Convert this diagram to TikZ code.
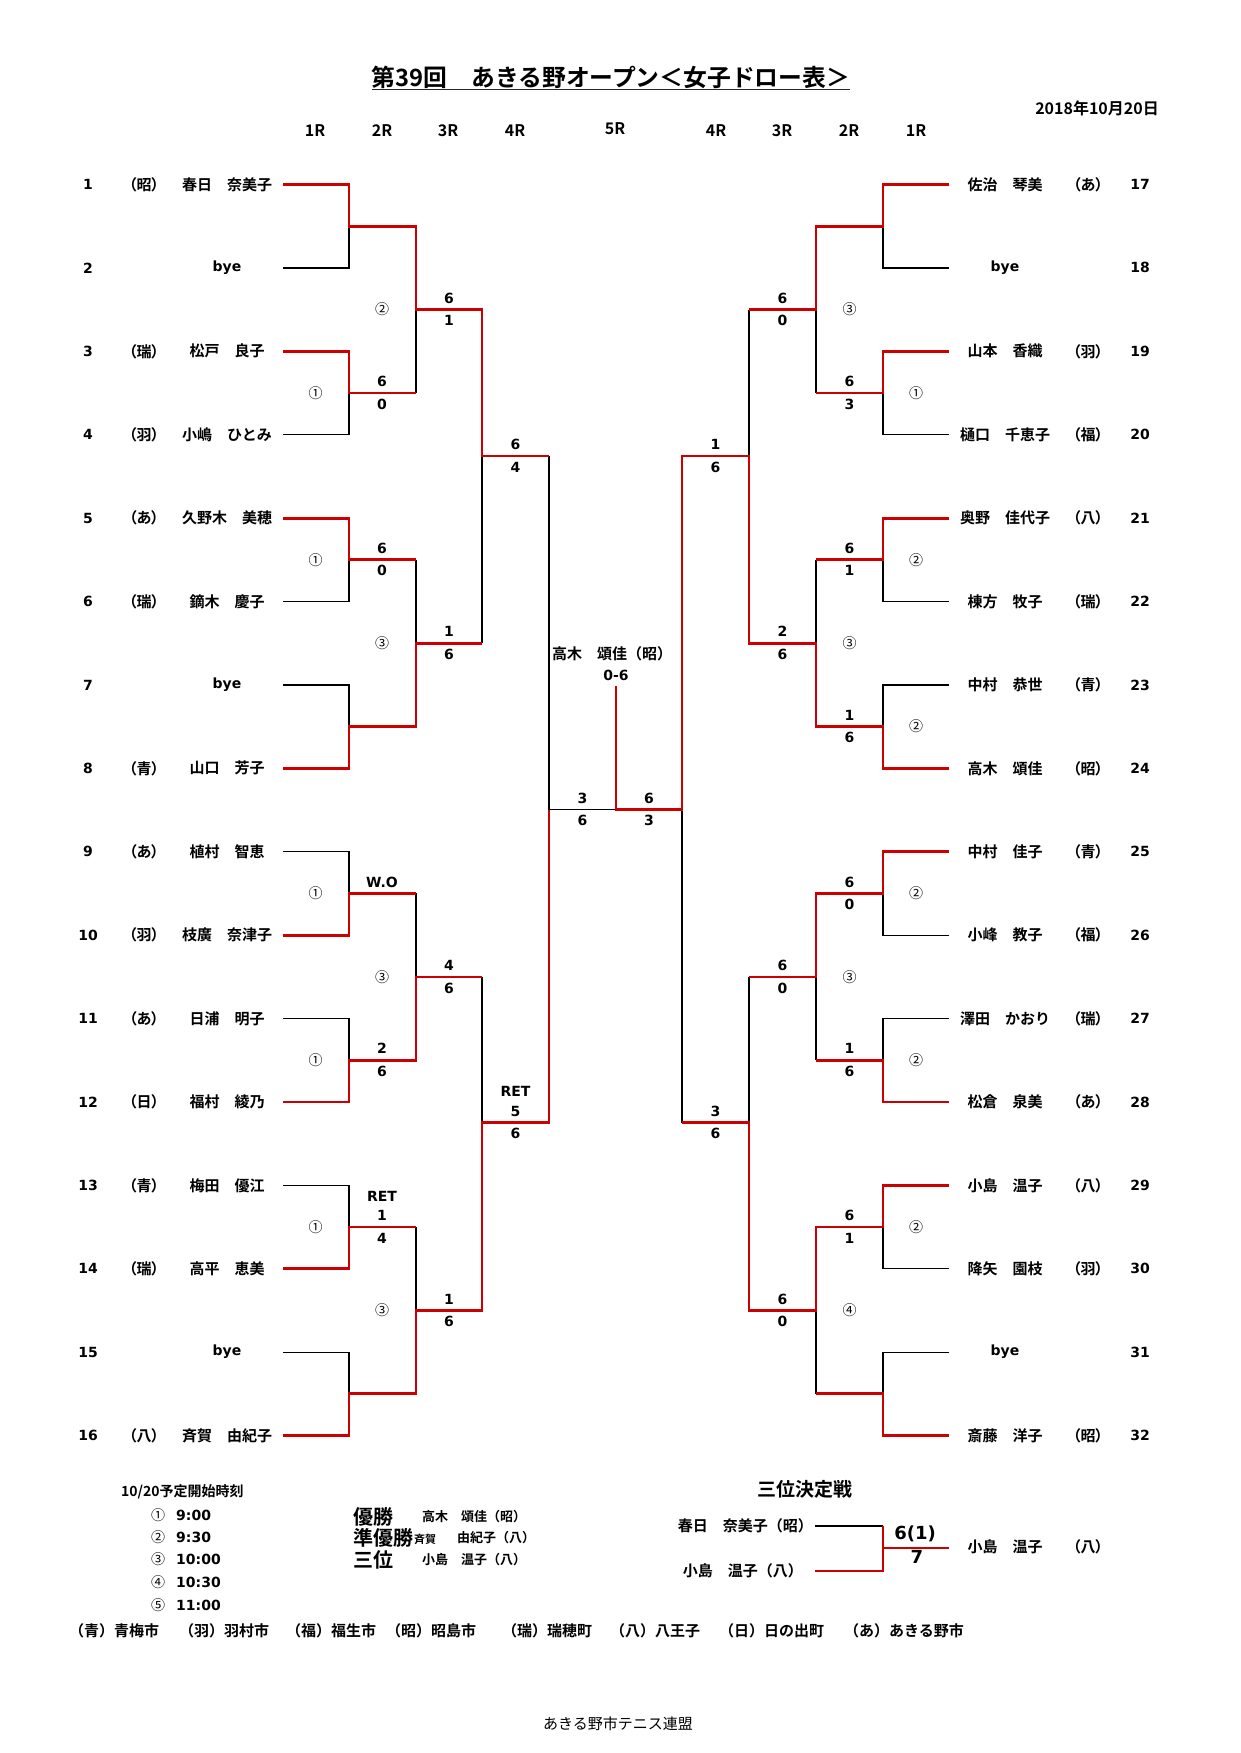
\documentclass[tikz,border=0pt]{standalone}
\usepackage{fontspec}
\setmainfont{Noto Sans CJK JP}[BoldFont={Noto Sans CJK JP Bold}]
\newfontfamily\digitfont{DejaVu Sans}
\newfontfamily\afffont{Noto Sans CJK JP Bold}[RawFeature=+palt]
\definecolor{drawred}{RGB}{204,0,0}
\begin{document}
\begin{tikzpicture}[x=1pt,y=-1pt]
\tikzstyle{every node}+=[inner sep=0pt]
\tikzstyle{redline}=[draw=drawred,line width=2.8pt]
\tikzstyle{blkline}=[draw=black,line width=1.2pt]
\tikzstyle{numtxt}=[font=\digitfont\bfseries\fontsize{14}{16}\selectfont]
\tikzstyle{afftxt}=[font=\afffont\fontsize{15}{17}\selectfont]
\tikzstyle{nametxt}=[font=\bfseries\fontsize{15}{17}\selectfont]
\tikzstyle{circtxt}=[font=\fontsize{14}{16}\selectfont]
\tikzstyle{headtxt}=[font=\bfseries\fontsize{16}{18}\selectfont]
\tikzstyle{legtxt}=[font=\bfseries\fontsize{15}{17}\selectfont,anchor=west]
\useasboundingbox (0,0) rectangle (1240,1753);
\node[font=\bfseries\fontsize{23.8}{27}\selectfont] (title) at (611,77) {第39回　あきる野オープン＜女子ドロー表＞};
\draw[line width=1.5pt,black!85] ([yshift=-1pt]title.south west) -- ([yshift=-1pt]title.south east);
\node[font=\bfseries\fontsize{16}{18}\selectfont,anchor=east] (date) at (1159,108.5) {2018年10月20日};
\node[headtxt] (h1l) at (315,131) {1R};
\node[headtxt] (h2l) at (382,131) {2R};
\node[headtxt] (h3l) at (448,131) {3R};
\node[headtxt] (h4l) at (515,131) {4R};
\node[headtxt] (h5) at (615,129) {5R};
\node[headtxt] (h4r) at (716,131) {4R};
\node[headtxt] (h3r) at (782,131) {3R};
\node[headtxt] (h2r) at (849,131) {2R};
\node[headtxt] (h1r) at (916,131) {1R};
\node[numtxt] (no1) at (88,184.5) {1};
\node[afftxt] (af1) at (144,184.5) {（昭）};
\node[nametxt] (pl1) at (227,184.5) {春日　奈美子};
\node[numtxt] (no2) at (88,267.9) {2};
\node[numtxt] (pl2) at (227,267.9) {bye};
\node[numtxt] (no3) at (88,351.3) {3};
\node[afftxt] (af3) at (144,351.3) {（瑞）};
\node[nametxt] (pl3) at (227,351.3) {松戸　良子};
\node[numtxt] (no4) at (88,434.7) {4};
\node[afftxt] (af4) at (144,434.7) {（羽）};
\node[nametxt] (pl4) at (227,434.7) {小嶋　ひとみ};
\node[numtxt] (no5) at (88,518.1) {5};
\node[afftxt] (af5) at (144,518.1) {（あ）};
\node[nametxt] (pl5) at (227,518.1) {久野木　美穂};
\node[numtxt] (no6) at (88,601.5) {6};
\node[afftxt] (af6) at (144,601.5) {（瑞）};
\node[nametxt] (pl6) at (227,601.5) {鏑木　慶子};
\node[numtxt] (no7) at (88,684.9) {7};
\node[numtxt] (pl7) at (227,684.9) {bye};
\node[numtxt] (no8) at (88,768.3) {8};
\node[afftxt] (af8) at (144,768.3) {（青）};
\node[nametxt] (pl8) at (227,768.3) {山口　芳子};
\node[numtxt] (no9) at (88,851.7) {9};
\node[afftxt] (af9) at (144,851.7) {（あ）};
\node[nametxt] (pl9) at (227,851.7) {植村　智恵};
\node[numtxt] (no10) at (88,935.1) {10};
\node[afftxt] (af10) at (144,935.1) {（羽）};
\node[nametxt] (pl10) at (227,935.1) {枝廣　奈津子};
\node[numtxt] (no11) at (88,1018.5) {11};
\node[afftxt] (af11) at (144,1018.5) {（あ）};
\node[nametxt] (pl11) at (227,1018.5) {日浦　明子};
\node[numtxt] (no12) at (88,1101.9) {12};
\node[afftxt] (af12) at (144,1101.9) {（日）};
\node[nametxt] (pl12) at (227,1101.9) {福村　綾乃};
\node[numtxt] (no13) at (88,1185.3) {13};
\node[afftxt] (af13) at (144,1185.3) {（青）};
\node[nametxt] (pl13) at (227,1185.3) {梅田　優江};
\node[numtxt] (no14) at (88,1268.7) {14};
\node[afftxt] (af14) at (144,1268.7) {（瑞）};
\node[nametxt] (pl14) at (227,1268.7) {高平　恵美};
\node[numtxt] (no15) at (88,1352.1) {15};
\node[numtxt] (pl15) at (227,1352.1) {bye};
\node[numtxt] (no16) at (88,1435.5) {16};
\node[afftxt] (af16) at (144,1435.5) {（八）};
\node[nametxt] (pl16) at (227,1435.5) {斉賀　由紀子};
\node[nametxt] (pl17) at (1005,184.5) {佐治　琴美};
\node[afftxt] (af17) at (1088,184.5) {（あ）};
\node[numtxt] (no17) at (1140,184.5) {17};
\node[numtxt] (pl18) at (1005,267.9) {bye};
\node[numtxt] (no18) at (1140,267.9) {18};
\node[nametxt] (pl19) at (1005,351.3) {山本　香織};
\node[afftxt] (af19) at (1088,351.3) {（羽）};
\node[numtxt] (no19) at (1140,351.3) {19};
\node[nametxt] (pl20) at (1005,434.7) {樋口　千恵子};
\node[afftxt] (af20) at (1088,434.7) {（福）};
\node[numtxt] (no20) at (1140,434.7) {20};
\node[nametxt] (pl21) at (1005,518.1) {奥野　佳代子};
\node[afftxt] (af21) at (1088,518.1) {（八）};
\node[numtxt] (no21) at (1140,518.1) {21};
\node[nametxt] (pl22) at (1005,601.5) {棟方　牧子};
\node[afftxt] (af22) at (1088,601.5) {（瑞）};
\node[numtxt] (no22) at (1140,601.5) {22};
\node[nametxt] (pl23) at (1005,684.9) {中村　恭世};
\node[afftxt] (af23) at (1088,684.9) {（青）};
\node[numtxt] (no23) at (1140,684.9) {23};
\node[nametxt] (pl24) at (1005,768.3) {高木　頌佳};
\node[afftxt] (af24) at (1088,768.3) {（昭）};
\node[numtxt] (no24) at (1140,768.3) {24};
\node[nametxt] (pl25) at (1005,851.7) {中村　佳子};
\node[afftxt] (af25) at (1088,851.7) {（青）};
\node[numtxt] (no25) at (1140,851.7) {25};
\node[nametxt] (pl26) at (1005,935.1) {小峰　教子};
\node[afftxt] (af26) at (1088,935.1) {（福）};
\node[numtxt] (no26) at (1140,935.1) {26};
\node[nametxt] (pl27) at (1005,1018.5) {澤田　かおり};
\node[afftxt] (af27) at (1088,1018.5) {（瑞）};
\node[numtxt] (no27) at (1140,1018.5) {27};
\node[nametxt] (pl28) at (1005,1101.9) {松倉　泉美};
\node[afftxt] (af28) at (1088,1101.9) {（あ）};
\node[numtxt] (no28) at (1140,1101.9) {28};
\node[nametxt] (pl29) at (1005,1185.3) {小島　温子};
\node[afftxt] (af29) at (1088,1185.3) {（八）};
\node[numtxt] (no29) at (1140,1185.3) {29};
\node[nametxt] (pl30) at (1005,1268.7) {降矢　園枝};
\node[afftxt] (af30) at (1088,1268.7) {（羽）};
\node[numtxt] (no30) at (1140,1268.7) {30};
\node[numtxt] (pl31) at (1005,1352.1) {bye};
\node[numtxt] (no31) at (1140,1352.1) {31};
\node[nametxt] (pl32) at (1005,1435.5) {斎藤　洋子};
\node[afftxt] (af32) at (1088,1435.5) {（昭）};
\node[numtxt] (no32) at (1140,1435.5) {32};
\coordinate (s1) at (283,184.5);
\coordinate (s2) at (283,267.9);
\coordinate (s3) at (283,351.3);
\coordinate (s4) at (283,434.7);
\coordinate (s5) at (283,518.1);
\coordinate (s6) at (283,601.5);
\coordinate (s7) at (283,684.9);
\coordinate (s8) at (283,768.3);
\coordinate (s9) at (283,851.7);
\coordinate (s10) at (283,935.1);
\coordinate (s11) at (283,1018.5);
\coordinate (s12) at (283,1101.9);
\coordinate (s13) at (283,1185.3);
\coordinate (s14) at (283,1268.7);
\coordinate (s15) at (283,1352.1);
\coordinate (s16) at (283,1435.5);
\coordinate (s17) at (949,184.5);
\coordinate (s18) at (949,267.9);
\coordinate (s19) at (949,351.3);
\coordinate (s20) at (949,434.7);
\coordinate (s21) at (949,518.1);
\coordinate (s22) at (949,601.5);
\coordinate (s23) at (949,684.9);
\coordinate (s24) at (949,768.3);
\coordinate (s25) at (949,851.7);
\coordinate (s26) at (949,935.1);
\coordinate (s27) at (949,1018.5);
\coordinate (s28) at (949,1101.9);
\coordinate (s29) at (949,1185.3);
\coordinate (s30) at (949,1268.7);
\coordinate (s31) at (949,1352.1);
\coordinate (s32) at (949,1435.5);
\coordinate (j1) at (349,226.2);
\coordinate (j2) at (349,393);
\coordinate (j3) at (349,559.8);
\coordinate (j4) at (349,726.6);
\coordinate (j5) at (349,893.4);
\coordinate (j6) at (349,1060.2);
\coordinate (j7) at (349,1227);
\coordinate (j8) at (349,1393.8);
\coordinate (j9) at (883,226.2);
\coordinate (j10) at (883,393);
\coordinate (j11) at (883,559.8);
\coordinate (j12) at (883,726.6);
\coordinate (j13) at (883,893.4);
\coordinate (j14) at (883,1060.2);
\coordinate (j15) at (883,1227);
\coordinate (j16) at (883,1393.8);
\coordinate (k1) at (416,309.6);
\coordinate (k2) at (416,643.2);
\coordinate (k3) at (416,977);
\coordinate (k4) at (416,1310.4);
\coordinate (k5) at (816,309.6);
\coordinate (k6) at (816,643.2);
\coordinate (k7) at (816,977);
\coordinate (k8) at (816,1310.4);
\coordinate (q1) at (482,456);
\coordinate (q2) at (482,1122.5);
\coordinate (q3) at (749,456);
\coordinate (q4) at (749,1122.5);
\coordinate (f1) at (549,809.5);
\coordinate (f2) at (682,809.5);
\coordinate (c) at (616,809.5);
\coordinate (c0) at (616,686);
\draw[blkline] (s2) -| (j1);
\draw[blkline] (s4) -| (j2);
\draw[blkline] (s6) -| (j3);
\draw[blkline] (s7) -| (j4);
\draw[blkline] (s9) -| (j5);
\draw[blkline] (s11) -| (j6);
\draw[blkline] (s13) -| (j7);
\draw[blkline] (s15) -| (j8);
\draw[blkline] (j2 -| k1) -- (k1);
\draw[blkline] (j3 -| k2) -- (k2);
\draw[blkline] (j5 -| k3) -- (k3);
\draw[blkline] (j7 -| k4) -- (k4);
\draw[blkline] (k2 -| q1) -- (q1);
\draw[blkline] (k3 -| q2) -- (q2);
\draw[blkline] (q1 -| f1) -- (f1);
\draw[blkline] (f1) -- (c);
\draw[blkline] (s18) -| (j9);
\draw[blkline] (s20) -| (j10);
\draw[blkline] (s22) -| (j11);
\draw[blkline] (s23) -| (j12);
\draw[blkline] (s26) -| (j13);
\draw[blkline] (s27) -| (j14);
\draw[blkline] (s30) -| (j15);
\draw[blkline] (s31) -| (j16);
\draw[blkline] (j10 -| k5) -- (k5);
\draw[blkline] (j11 -| k6) -- (k6);
\draw[blkline] (j14 -| k7) -- (k7);
\draw[blkline] (j16 -| k8) -- (k8);
\draw[blkline] (k5 -| q3) -- (q3);
\draw[blkline] (k7 -| q4) -- (q4);
\draw[blkline] (q4 -| f2) -- (f2);
\draw[redline] (s1) -| (j1) -| (k1) -| (q1) -- (q1 -| f1);
\draw[redline] (s3) -| (j2) -- (j2 -| k1);
\draw[redline] (s5) -| (j3) -- (j3 -| k2);
\draw[redline] (s8) -| (j4) -| (k2) -- (k2 -| q1);
\draw[redline] (s10) -| (j5) -- (j5 -| k3);
\draw[redline] (s12) -| (j6) -| (k3) -- (k3 -| q2);
\draw[redline] (s14) -| (j7) -- (j7 -| k4);
\draw[redline] (s16) -| (j8) -| (k4) -| (q2) -| (f1);
\draw[redline] (s17) -| (j9) -| (k5) -- (k5 -| q3);
\draw[redline] (s19) -| (j10) -- (j10 -| k5);
\draw[redline] (s21) -| (j11) -- (j11 -| k6);
\draw[redline] (s24) -| (j12) -| (k6) -| (q3) -| (f2) -- (c) -- (c0);
\draw[redline] (s25) -| (j13) -| (k7) -- (k7 -| q4);
\draw[redline] (s28) -| (j14) -- (j14 -| k7);
\draw[redline] (s29) -| (j15) -| (k8) -| (q4) -- (q4 -| f2);
\draw[redline] (s32) -| (j16) -- (j16 -| k8);
\node[numtxt] (sj2a) at (382,381.5) {6};
\node[numtxt] (sj2b) at (382,404) {0};
\node[numtxt] (sj3a) at (382,548.3) {6};
\node[numtxt] (sj3b) at (382,570.8) {0};
\node[numtxt] (sj5a) at (382,881.9) {W.O};
\node[numtxt] (sj6a) at (382,1048.7) {2};
\node[numtxt] (sj6b) at (382,1071.2) {6};
\node[numtxt] (sj7r) at (382,1196) {RET};
\node[numtxt] (sj7a) at (382,1215.5) {1};
\node[numtxt] (sj7b) at (382,1238) {4};
\node[numtxt] (sk1a) at (449,298.1) {6};
\node[numtxt] (sk1b) at (449,320.6) {1};
\node[numtxt] (sk2a) at (449,631.7) {1};
\node[numtxt] (sk2b) at (449,654.2) {6};
\node[numtxt] (sk3a) at (449,965.5) {4};
\node[numtxt] (sk3b) at (449,988) {6};
\node[numtxt] (sk4a) at (449,1298.9) {1};
\node[numtxt] (sk4b) at (449,1321.4) {6};
\node[numtxt] (sq1a) at (515.5,444.5) {6};
\node[numtxt] (sq1b) at (515.5,467) {4};
\node[numtxt] (sq2r) at (515.5,1091.5) {RET};
\node[numtxt] (sq2a) at (515.5,1111) {5};
\node[numtxt] (sq2b) at (515.5,1133.5) {6};
\node[numtxt] (sf1a) at (582.5,798) {3};
\node[numtxt] (sf1b) at (582.5,820.5) {6};
\node[numtxt] (sf2a) at (649,798) {6};
\node[numtxt] (sf2b) at (649,820.5) {3};
\node[numtxt] (sq3a) at (715.5,444.5) {1};
\node[numtxt] (sq3b) at (715.5,467) {6};
\node[numtxt] (sq4a) at (715.5,1111) {3};
\node[numtxt] (sq4b) at (715.5,1133.5) {6};
\node[numtxt] (sk5a) at (782.5,298.1) {6};
\node[numtxt] (sk5b) at (782.5,320.6) {0};
\node[numtxt] (sk6a) at (782.5,631.7) {2};
\node[numtxt] (sk6b) at (782.5,654.2) {6};
\node[numtxt] (sk7a) at (782.5,965.5) {6};
\node[numtxt] (sk7b) at (782.5,988) {0};
\node[numtxt] (sk8a) at (782.5,1298.9) {6};
\node[numtxt] (sk8b) at (782.5,1321.4) {0};
\node[numtxt] (sj10a) at (849.5,381.5) {6};
\node[numtxt] (sj10b) at (849.5,404) {3};
\node[numtxt] (sj11a) at (849.5,548.3) {6};
\node[numtxt] (sj11b) at (849.5,570.8) {1};
\node[numtxt] (sj12a) at (849.5,715.1) {1};
\node[numtxt] (sj12b) at (849.5,737.6) {6};
\node[numtxt] (sj13a) at (849.5,881.9) {6};
\node[numtxt] (sj13b) at (849.5,904.4) {0};
\node[numtxt] (sj14a) at (849.5,1048.7) {1};
\node[numtxt] (sj14b) at (849.5,1071.2) {6};
\node[numtxt] (sj15a) at (849.5,1215.5) {6};
\node[numtxt] (sj15b) at (849.5,1238) {1};
\node[circtxt] (tk1) at (382,309.6) {②};
\node[circtxt] (tj2) at (315.5,393) {①};
\node[circtxt] (tj3) at (315.5,559.8) {①};
\node[circtxt] (tk2) at (382,643.2) {③};
\node[circtxt] (tj5) at (315.5,893.4) {①};
\node[circtxt] (tk3) at (382,977) {③};
\node[circtxt] (tj6) at (315.5,1060.2) {①};
\node[circtxt] (tj7) at (315.5,1227) {①};
\node[circtxt] (tk4) at (382,1310.4) {③};
\node[circtxt] (tk5) at (849.5,309.6) {③};
\node[circtxt] (tj10) at (916,393) {①};
\node[circtxt] (tj11) at (916,559.8) {②};
\node[circtxt] (tk6) at (849.5,643.2) {③};
\node[circtxt] (tj12) at (916,726.6) {②};
\node[circtxt] (tj13) at (916,893.4) {②};
\node[circtxt] (tk7) at (849.5,977) {③};
\node[circtxt] (tj14) at (916,1060.2) {②};
\node[circtxt] (tj15) at (916,1227) {②};
\node[circtxt] (tk8) at (849.5,1310.4) {④};
\node[nametxt] (champ) at (612,654) {高木　頌佳（昭）};
\node[numtxt] (champsc) at (616,675) {0-6};
\node[font=\bfseries\fontsize{19}{21}\selectfont] (tptitle) at (805,1489) {三位決定戦};
\node[nametxt,anchor=east] (tp1) at (813,1526) {春日　奈美子（昭）};
\node[nametxt,anchor=east] (tp2) at (803,1571) {小島　温子（八）};
\coordinate (t1) at (815,1526);
\coordinate (t2) at (815,1571);
\coordinate (tj) at (883,1548);
\coordinate (tw) at (949,1548);
\draw[blkline] (t1) -- (t1 -| tj);
\draw[redline] (t2) -| (t1 -| tj);
\draw[redline] (tj) -- (tw);
\node[font=\digitfont\bfseries\fontsize{18}{20}\selectfont] (tpsa) at (915,1534) {6(1)};
\node[font=\digitfont\bfseries\fontsize{18}{20}\selectfont] (tpsb) at (917,1557) {7};
\node[nametxt] (tpw) at (1005,1547) {小島　温子};
\node[afftxt] (tpwa) at (1088,1547) {（八）};
\node[font=\bfseries\fontsize{14}{16}\selectfont,anchor=west] (sched) at (121,1492) {10/20予定開始時刻};
\node[circtxt] (c1) at (158,1515) {①};
\node[numtxt,anchor=west] (tm1) at (176,1515) {9:00};
\node[circtxt] (c2) at (158,1537) {②};
\node[numtxt,anchor=west] (tm2) at (176,1537) {9:30};
\node[circtxt] (c3) at (158,1559) {③};
\node[numtxt,anchor=west] (tm3) at (176,1559) {10:00};
\node[circtxt] (c4) at (158,1582) {④};
\node[numtxt,anchor=west] (tm4) at (176,1582) {10:30};
\node[circtxt] (c5) at (158,1605) {⑤};
\node[numtxt,anchor=west] (tm5) at (176,1605) {11:00};
\node[font=\bfseries\fontsize{20}{22}\selectfont,anchor=west] (rk1) at (353,1517) {優勝};
\node[font=\bfseries\fontsize{20}{22}\selectfont,anchor=west] (rk2) at (353,1538) {準優勝};
\node[font=\bfseries\fontsize{20}{22}\selectfont,anchor=west] (rk3) at (353,1560) {三位};
\node[font=\bfseries\fontsize{13}{15}\selectfont,anchor=west] (rn1) at (422,1517) {高木　頌佳（昭）};
\node[font=\bfseries\fontsize{11}{13}\selectfont,anchor=west] (rn2a) at (414,1539) {斉賀};
\node[font=\bfseries\fontsize{13}{15}\selectfont,anchor=west] (rn2b) at (457,1538) {由紀子（八）};
\node[font=\bfseries\fontsize{13}{15}\selectfont,anchor=west] (rn3) at (422,1560) {小島　温子（八）};
\node[legtxt] (lg1) at (69,1631) {（青）青梅市};
\node[legtxt] (lg2) at (179,1631) {（羽）羽村市};
\node[legtxt] (lg3) at (286,1631) {（福）福生市};
\node[legtxt] (lg4) at (386,1631) {（昭）昭島市};
\node[legtxt] (lg5) at (502,1631) {（瑞）瑞穂町};
\node[legtxt] (lg6) at (610,1631) {（八）八王子};
\node[legtxt] (lg7) at (719,1631) {（日）日の出町};
\node[legtxt] (lg8) at (844,1631) {（あ）あきる野市};
\node[font=\fontsize{15}{17}\selectfont] (footer) at (618,1724) {あきる野市テニス連盟};
\end{tikzpicture}
\end{document}
